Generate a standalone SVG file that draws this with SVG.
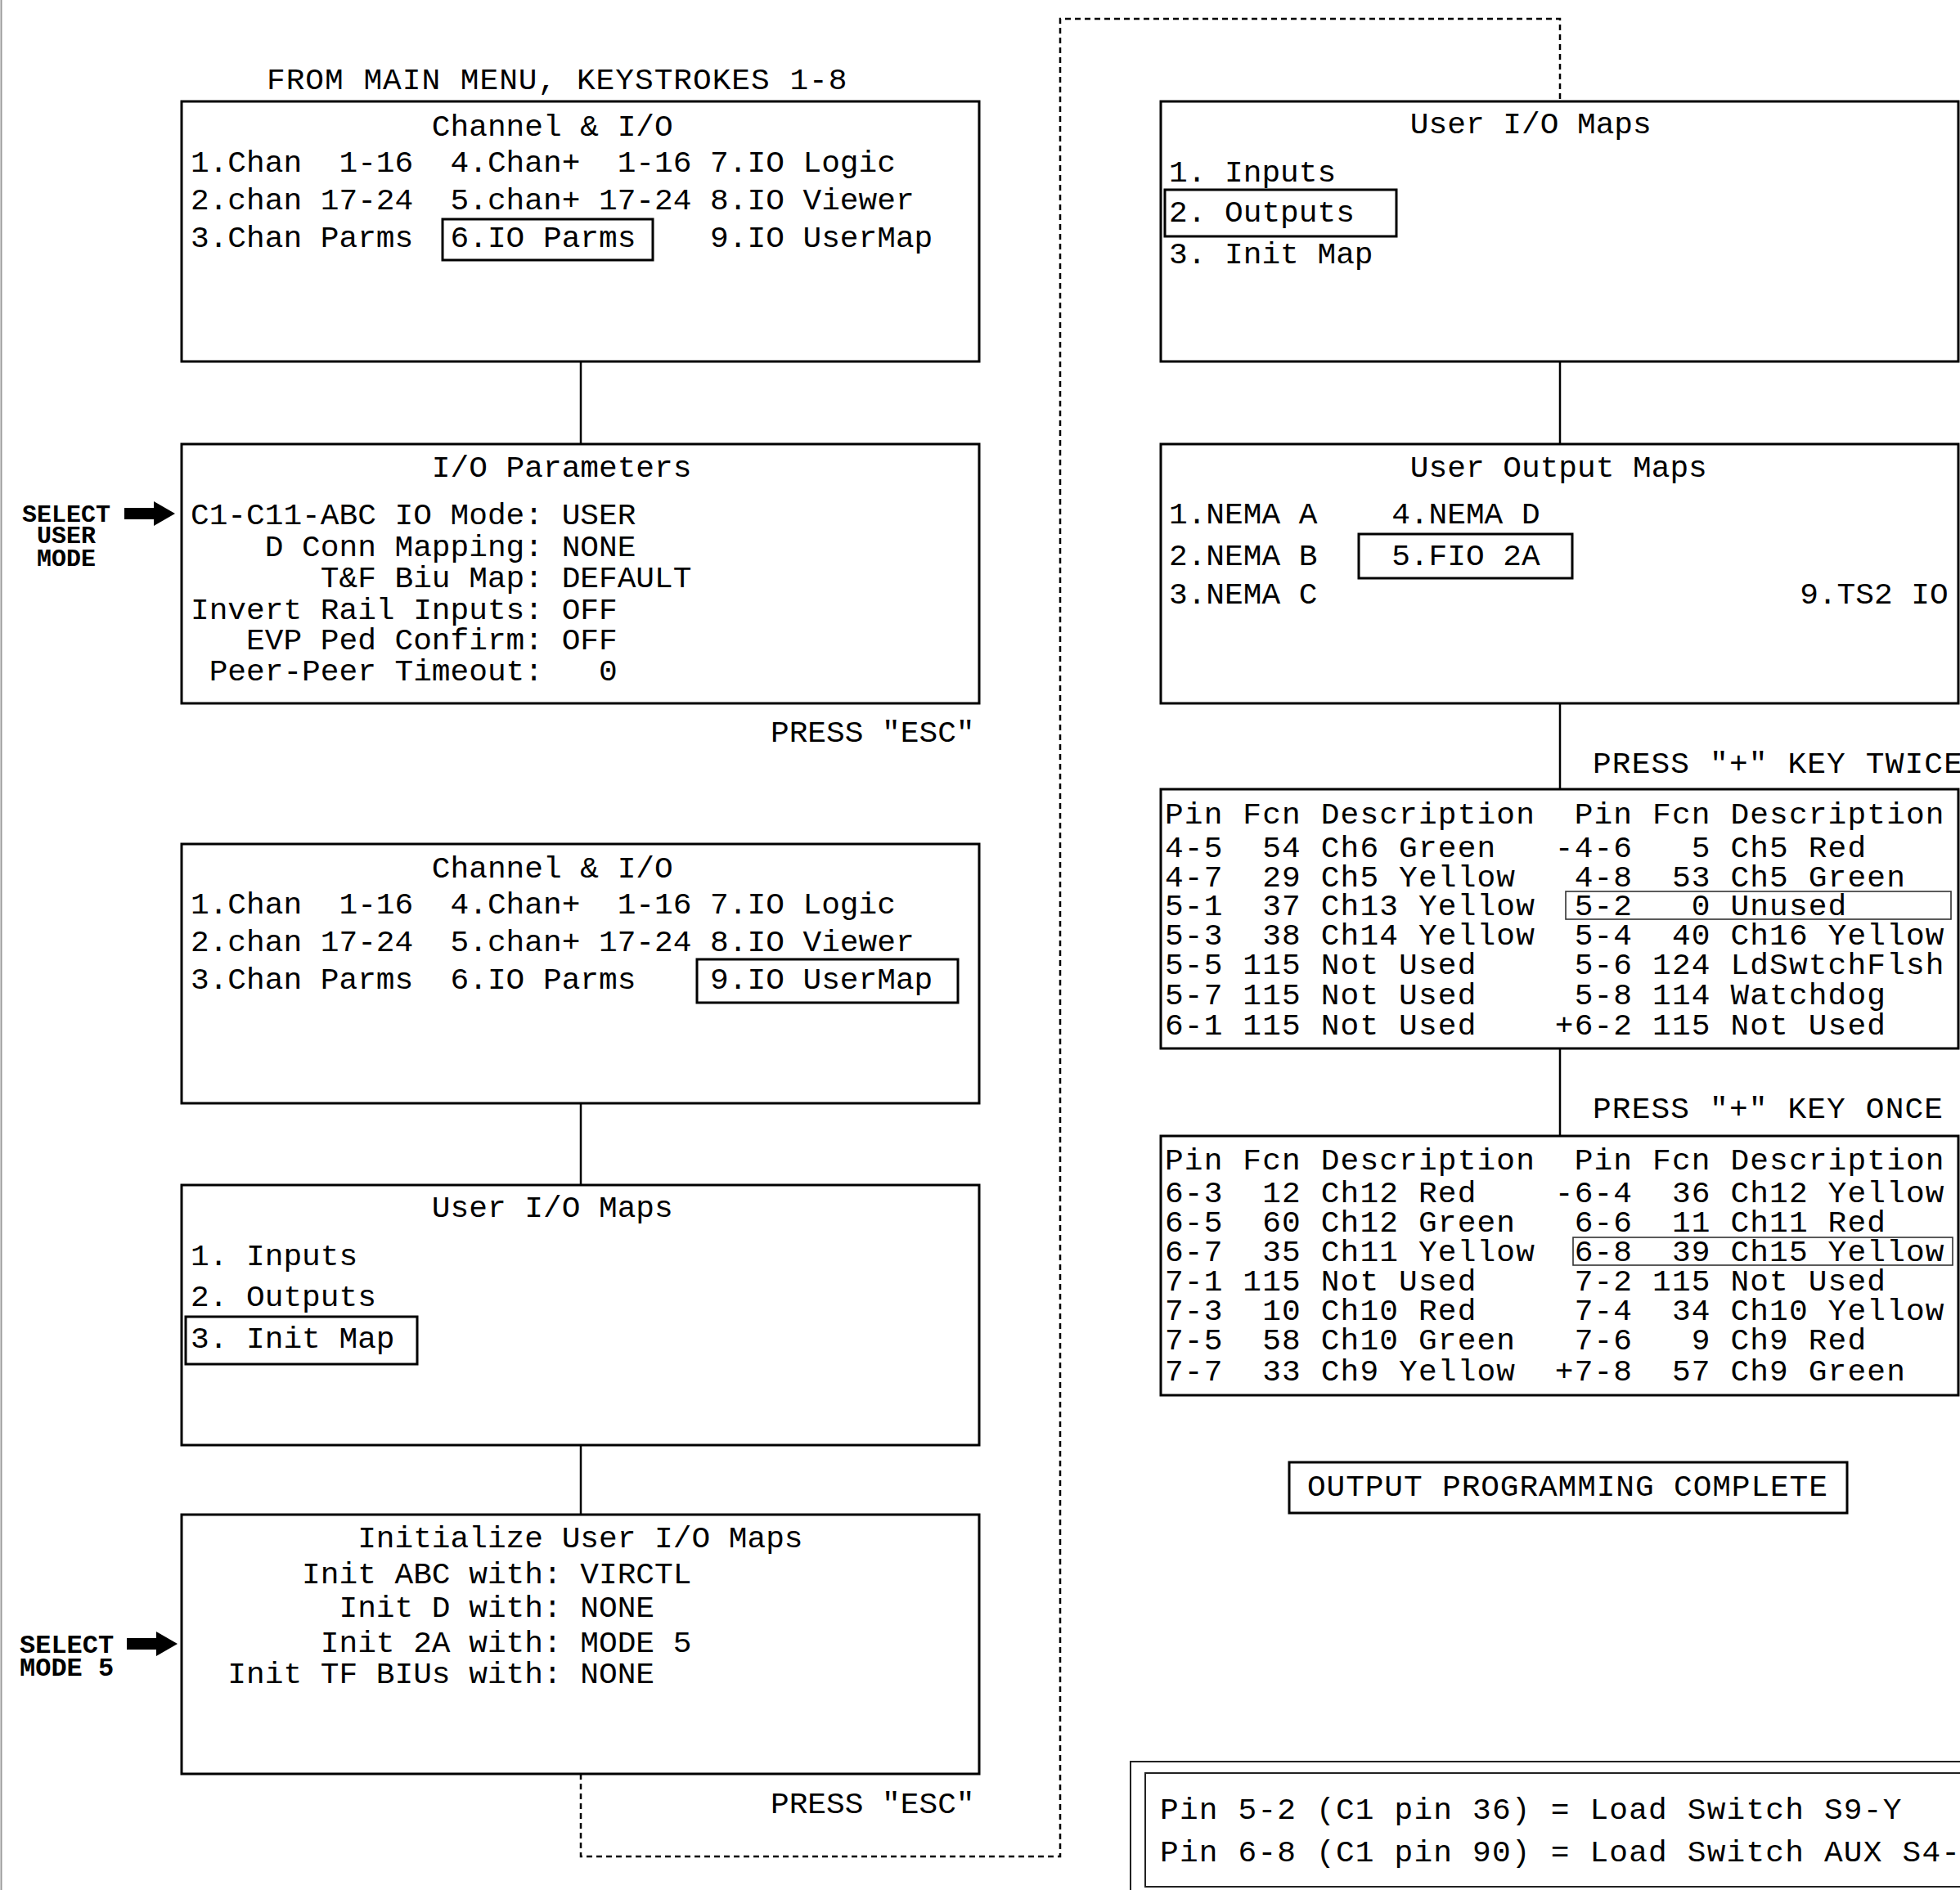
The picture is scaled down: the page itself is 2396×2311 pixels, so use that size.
<svg xmlns="http://www.w3.org/2000/svg" width="2396" height="2311" viewBox="0 0 2396 2311">
<style>
text{font-family:"Liberation Mono","DejaVu Sans Mono",monospace;font-size:37.8px;fill:#000;white-space:pre}
.wide{letter-spacing:1.16px}
.box{fill:#fff;stroke:#000;stroke-width:3}
.hl{fill:none;stroke:#000;stroke-width:3}
.thl{fill:none;stroke:#333;stroke-width:1.6}
.sel{font-size:30px;font-weight:bold}
.conn{stroke:#000;stroke-width:2.5;fill:none}
.dash{stroke:#000;stroke-width:2.5;fill:none;stroke-dasharray:7 5}
.note{fill:none;stroke:#222;stroke-width:2}
</style>
<defs>
<path id="blk" d="M0,-7 L36,-7 L36,-15 L62,0 L36,15 L36,7 L0,7 Z" fill="#000"/>
</defs>
<rect width="2396" height="2311" fill="#fff"/>
<line x1="1.5" y1="0" x2="1.5" y2="2311" stroke="#999" stroke-width="2"/>

<g id="connectors">
<line class="conn" x1="710" y1="442" x2="710" y2="543"/>
<line class="conn" x1="710" y1="1349" x2="710" y2="1449"/>
<line class="conn" x1="710" y1="1767" x2="710" y2="1852"/>
<line class="conn" x1="1907" y1="442" x2="1907" y2="543"/>
<line class="conn" x1="1907" y1="860" x2="1907" y2="965"/>
<line class="conn" x1="1907" y1="1282" x2="1907" y2="1389"/>
<polyline class="dash" points="710,2169 710,2270 1296,2270 1296,23 1907,23 1907,124"/>
</g>

<text id="title-main" x="326" y="109" style="letter-spacing:1px">FROM MAIN MENU, KEYSTROKES 1-8</text>

<g id="box-channel-io-1">
<rect class="box" x="222" y="124" width="975" height="318"/>
<text x="233" y="166">             Channel &amp; I/O</text>
<text x="233" y="210">1.Chan  1-16  4.Chan+  1-16 7.IO Logic</text>
<text x="233" y="256">2.chan 17-24  5.chan+ 17-24 8.IO Viewer</text>
<text x="233" y="302">3.Chan Parms  6.IO Parms    9.IO UserMap</text>
<rect class="hl" x="541" y="268" width="257" height="50"/>
</g>

<g id="box-io-parameters">
<rect class="box" x="222" y="543" width="975" height="317"/>
<text x="233" y="583">             I/O Parameters</text>
<text x="233" y="641">C1-C11-ABC IO Mode: USER</text>
<text x="233" y="680">    D Conn Mapping: NONE</text>
<text x="233" y="718">       T&amp;F Biu Map: DEFAULT</text>
<text x="233" y="757">Invert Rail Inputs: OFF</text>
<text x="233" y="794">   EVP Ped Confirm: OFF</text>
<text x="233" y="832"> Peer-Peer Timeout:   0</text>
</g>

<g id="label-select-user-mode">
<text class="sel" x="27" y="638">SELECT</text>
<text class="sel" x="45" y="664">USER</text>
<text class="sel" x="45" y="692">MODE</text>
<use href="#blk" x="152" y="628"/>
</g>

<text id="press-esc-1" x="942" y="907">PRESS "ESC"</text>

<g id="box-channel-io-2">
<rect class="box" x="222" y="1032" width="975" height="317"/>
<text x="233" y="1073">             Channel &amp; I/O</text>
<text x="233" y="1117">1.Chan  1-16  4.Chan+  1-16 7.IO Logic</text>
<text x="233" y="1163">2.chan 17-24  5.chan+ 17-24 8.IO Viewer</text>
<text x="233" y="1209">3.Chan Parms  6.IO Parms    9.IO UserMap</text>
<rect class="hl" x="852" y="1173" width="319" height="53"/>
</g>

<g id="box-user-io-maps-1">
<rect class="box" x="222" y="1449" width="975" height="318"/>
<text x="233" y="1488">             User I/O Maps</text>
<text x="233" y="1547">1. Inputs</text>
<text x="233" y="1597">2. Outputs</text>
<text x="233" y="1648">3. Init Map</text>
<rect class="hl" x="227" y="1610" width="283" height="58"/>
</g>

<g id="box-init-user-io-maps">
<rect class="box" x="222" y="1852" width="975" height="317"/>
<text x="233" y="1892">         Initialize User I/O Maps</text>
<text x="233" y="1936">      Init ABC with: VIRCTL</text>
<text x="233" y="1977">        Init D with: NONE</text>
<text x="233" y="2020">       Init 2A with: MODE 5</text>
<text x="233" y="2058">  Init TF BIUs with: NONE</text>
</g>

<g id="label-select-mode-5">
<text class="sel" x="24" y="2021" style="font-size:32px">SELECT</text>
<text class="sel" x="24" y="2049" style="font-size:32px">MODE 5</text>
<use href="#blk" x="155" y="2010"/>
</g>

<text id="press-esc-2" x="942" y="2217">PRESS "ESC"</text>

<g id="box-user-io-maps-2">
<rect class="box" x="1419" y="124" width="975" height="318"/>
<text x="1429" y="163">             User I/O Maps</text>
<text x="1429" y="222">1. Inputs</text>
<text x="1429" y="271">2. Outputs</text>
<text x="1429" y="322">3. Init Map</text>
<rect class="hl" x="1424" y="232" width="283" height="57"/>
</g>

<g id="box-user-output-maps">
<rect class="box" x="1419" y="543" width="975" height="317"/>
<text x="1429" y="583">             User Output Maps</text>
<text x="1429" y="640">1.NEMA A    4.NEMA D</text>
<text x="1429" y="691">2.NEMA B    5.FIO 2A</text>
<text x="1429" y="738">3.NEMA C                          9.TS2 IO</text>
<rect class="hl" x="1661" y="653" width="261" height="54"/>
</g>

<text id="press-plus-twice" class="wide" x="1947" y="945">PRESS "+" KEY TWICE</text>

<g id="box-output-table-1">
<rect class="box" x="1419" y="965" width="975" height="317"/>
<text class="wide" x="1424" y="1007">Pin Fcn Description  Pin Fcn Description</text>
<text class="wide" x="1424" y="1048">4-5  54 Ch6 Green   -4-6   5 Ch5 Red</text>
<text class="wide" x="1424" y="1084">4-7  29 Ch5 Yellow   4-8  53 Ch5 Green</text>
<text class="wide" x="1424" y="1119">5-1  37 Ch13 Yellow  5-2   0 Unused</text>
<text class="wide" x="1424" y="1155">5-3  38 Ch14 Yellow  5-4  40 Ch16 Yellow</text>
<text class="wide" x="1424" y="1191">5-5 115 Not Used     5-6 124 LdSwtchFlsh</text>
<text class="wide" x="1424" y="1228">5-7 115 Not Used     5-8 114 Watchdog</text>
<text class="wide" x="1424" y="1265">6-1 115 Not Used    +6-2 115 Not Used</text>
<rect class="thl" x="1914" y="1090" width="471" height="34"/>
</g>

<text id="press-plus-once" class="wide" x="1947" y="1367">PRESS "+" KEY ONCE</text>

<g id="box-output-table-2">
<rect class="box" x="1419" y="1389" width="975" height="317"/>
<text class="wide" x="1424" y="1430">Pin Fcn Description  Pin Fcn Description</text>
<text class="wide" x="1424" y="1470">6-3  12 Ch12 Red    -6-4  36 Ch12 Yellow</text>
<text class="wide" x="1424" y="1506">6-5  60 Ch12 Green   6-6  11 Ch11 Red</text>
<text class="wide" x="1424" y="1542">6-7  35 Ch11 Yellow  6-8  39 Ch15 Yellow</text>
<text class="wide" x="1424" y="1578">7-1 115 Not Used     7-2 115 Not Used</text>
<text class="wide" x="1424" y="1614">7-3  10 Ch10 Red     7-4  34 Ch10 Yellow</text>
<text class="wide" x="1424" y="1650">7-5  58 Ch10 Green   7-6   9 Ch9 Red</text>
<text class="wide" x="1424" y="1688">7-7  33 Ch9 Yellow  +7-8  57 Ch9 Green</text>
<rect class="thl" x="1923" y="1513" width="464" height="34"/>
</g>

<g id="box-output-complete">
<rect class="box" x="1576" y="1788" width="682" height="62"/>
<text x="1598" y="1829" style="letter-spacing:0.9px">OUTPUT PROGRAMMING COMPLETE</text>
</g>

<g id="note-box">
<rect class="note" x="1382" y="2154" width="1100" height="300"/>
<rect class="note" x="1400" y="2168" width="1100" height="139"/>
<text x="1418" y="2224" style="letter-spacing:1.2px">Pin 5-2 (C1 pin 36) = Load Switch S9-Y</text>
<text x="1418" y="2276" style="letter-spacing:1.2px">Pin 6-8 (C1 pin 90) = Load Switch AUX S4-</text>
</g>
</svg>
